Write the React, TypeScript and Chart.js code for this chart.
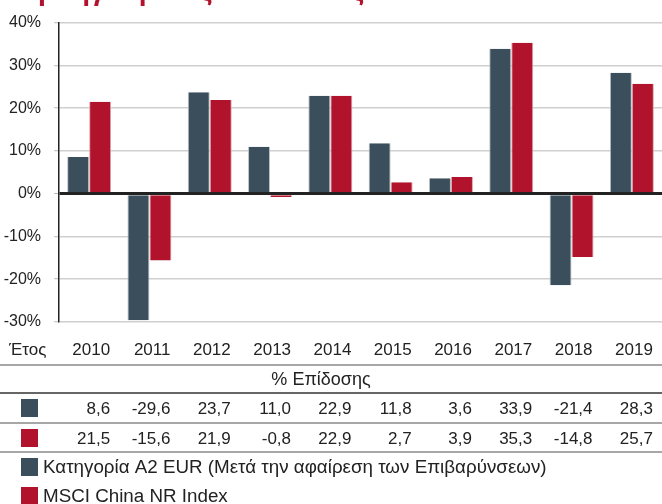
import React, { useEffect, useRef } from "react";
import { Chart, registerables } from "chart.js";

Chart.register(...registerables);

const years = ["2010", "2011", "2012", "2013", "2014", "2015", "2016", "2017", "2018", "2019"];
const fundValues = [8.6, -29.6, 23.7, 11.0, 22.9, 11.8, 3.6, 33.9, -21.4, 28.3];
const indexValues = [21.5, -15.6, 21.9, -0.8, 22.9, 2.7, 3.9, 35.3, -14.8, 25.7];
const fundName = "Κατηγορία A2 EUR (Μετά την αφαίρεση των Επιβαρύνσεων)";
const indexName = "MSCI China NR Index";
const titleText = "Προηγούμενες αποδόσεις";
const yearLabel = "Έτος";
const tableHeader = "% Επίδοσης";

const DARK = "#3a4f5b";
const RED = "#b0132b";
const FONT = "'Liberation Sans', Arial, sans-serif";

const fmt = (v: number) => v.toFixed(1).replace(".", ",");

const tablePlugin = {
  id: "tablePlugin",
  afterDraw(chart: any) {
    const ctx = chart.ctx as CanvasRenderingContext2D;
    const x = chart.scales.x;
    const W = chart.width;
    ctx.save();
    // title (clipped at top)
    ctx.fillStyle = RED;
    ctx.font = `bold 28px ${FONT}`;
    ctx.textAlign = "left";
    ctx.textBaseline = "alphabetic";
    ctx.fillText(titleText, 18, 0);

    ctx.fillStyle = "#222";
    ctx.font = `17px ${FONT}`;
    ctx.textBaseline = "middle";
    // year row
    ctx.textAlign = "left";
    ctx.fillText(yearLabel, 9, 350);
    ctx.textAlign = "right";
    years.forEach((y, i) => {
      ctx.fillText(y, x.getPixelForValue(i) + 21, 350);
    });
    // header
    ctx.textAlign = "center";
    ctx.font = `18px ${FONT}`;
    ctx.fillText(tableHeader, 321, 380);
    // lines
    const hline = (yy: number, color: string, w: number) => {
      ctx.strokeStyle = color;
      ctx.lineWidth = w;
      ctx.beginPath();
      ctx.moveTo(0, yy);
      ctx.lineTo(W, yy);
      ctx.stroke();
    };
    hline(365, "#8a8a8a", 1.5);
    hline(393, "#333", 1.5);
    hline(423, "#8a8a8a", 1.5);
    hline(452, "#8a8a8a", 1.5);
    // rows
    ctx.font = `17px ${FONT}`;
    const rows: [number[], string, number][] = [
      [fundValues, DARK, 408],
      [indexValues, RED, 438],
    ];
    rows.forEach(([vals, color, cy]) => {
      ctx.fillStyle = color;
      ctx.fillRect(21, cy - 9, 17, 18);
      ctx.fillStyle = "#222";
      ctx.textAlign = "right";
      vals.forEach((v, i) => {
        ctx.fillText(fmt(v), x.getPixelForValue(i) + 21, cy + 1);
      });
    });
    // legend
    ctx.textAlign = "left";
    ctx.font = `18.8px ${FONT}`;
    const legend: [string, string, number][] = [
      [fundName, DARK, 467],
      [indexName, RED, 496],
    ];
    legend.forEach(([name, color, cy]) => {
      ctx.fillStyle = color;
      ctx.fillRect(21, cy - 9, 17, 18);
      ctx.fillStyle = "#222";
      ctx.fillText(name, 43, cy + 1);
    });
    ctx.restore();
  },
};

export default function App() {
  const ref = useRef<HTMLCanvasElement>(null);
  useEffect(() => {
    if (!ref.current) return;
    const chart = new Chart(ref.current, {
      type: "bar",
      data: {
        labels: years,
        datasets: [
          {
            label: fundName,
            data: fundValues,
            backgroundColor: DARK,
            borderColor: "#b9c2c8",
            borderWidth: { left: 1, right: 1, top: 0, bottom: 0 } as any,
            borderSkipped: false,
          },
          {
            label: indexName,
            data: indexValues,
            backgroundColor: RED,
            borderColor: "#e3a3ad",
            borderWidth: { left: 1, right: 1, top: 0, bottom: 0 } as any,
            borderSkipped: false,
          },
        ],
      },
      options: {
        responsive: false,
        animation: false,
        events: [],
        layout: { padding: { top: 21, right: 0, bottom: 182, left: 0 } },
        datasets: { bar: { categoryPercentage: 0.73, barPercentage: 1 } },
        plugins: { legend: { display: false }, tooltip: { enabled: false }, title: { display: false } },
        scales: {
          x: { display: false },
          y: {
            min: -30,
            max: 40,
            afterFit: (s: any) => {
              s.width = 59;
            },
            ticks: {
              stepSize: 10,
              padding: 13,
              color: "#222",
              font: { family: FONT, size: 16 },
              callback: (v: any) => `${v}%`,
            },
            grid: {
              color: (c: any) => (c.tick && c.tick.value === 0 ? "#222" : "#cfcfcf"),
              lineWidth: (c: any) => (c.tick && c.tick.value === 0 ? 3 : 1.5),
              tickLength: 5,
              tickColor: "#bbb",
              tickWidth: 1,
            } as any,
            border: { display: true, color: "#222", width: 1.5 },
          },
        },
      },
      plugins: [tablePlugin],
    });
    return () => chart.destroy();
  }, []);
  return (
    <div style={{ position: "fixed", left: 0, top: 0, width: 662, height: 504, background: "#fff" }}>
      <canvas ref={ref} width={662} height={504} />
    </div>
  );
}
